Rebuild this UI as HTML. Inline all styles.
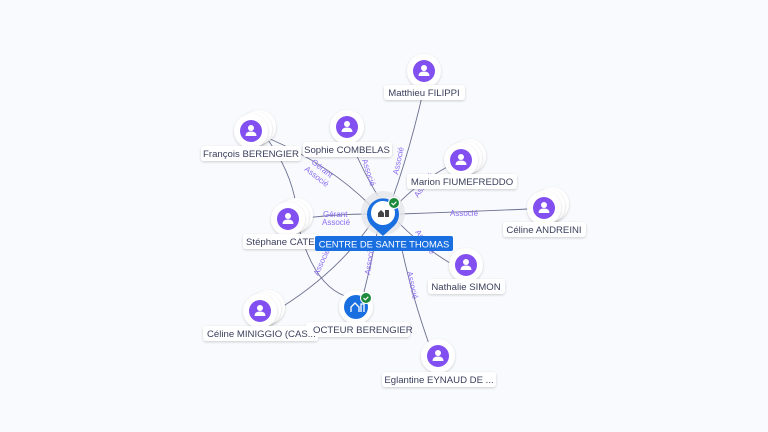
<!DOCTYPE html>
<html><head><meta charset="utf-8"><style>
html,body{margin:0;padding:0;background:#f8fafd;}
svg{display:block;}
text{font-family:"Liberation Sans",sans-serif;}
.lb{font-size:9.6px;fill:#3a3f5c;}
.el{font-size:8px;fill:#8b6cf0;}
.ln{fill:none;stroke:#6b7090;stroke-width:0.9;}
</style></head><body>
<svg width="768" height="432" viewBox="0 0 768 432" xmlns="http://www.w3.org/2000/svg">
<defs>
<filter id="sh" x="-50%" y="-50%" width="200%" height="200%"><feDropShadow dx="0" dy="1" stdDeviation="1.2" flood-color="#000" flood-opacity="0.18"/></filter>
<g id="p">
<circle r="17" fill="#fff" filter="url(#sh)"/>
<circle r="11" fill="#8250f0"/>
<circle cy="-3" r="3" fill="#fff"/>
<path d="M-5.5,5 Q-5.5,0.5 0,0.5 Q5.5,0.5 5.5,5 Z" fill="#fff"/>
</g>
<g id="ps">
<circle cx="8" cy="-4" r="17" fill="#fff" filter="url(#sh)"/>
<circle cx="4" cy="-2" r="17" fill="#fff" filter="url(#sh)"/>
<use href="#p"/>
</g>
</defs>
<rect width="768" height="432" fill="#f8fafd"/>
<!-- connectors -->
<path class="ln" d="M424,88 Q410,150 392,200"/>
<path class="ln" d="M352,145 Q365,175 378,196"/>
<path class="ln" d="M268,138 Q330,165 370,205"/>
<path class="ln" d="M268,140 Q290,170 296,204"/>
<path class="ln" d="M447,167 Q415,185 397,205"/>
<path class="ln" d="M528,209 Q460,212 400,214"/>
<path class="ln" d="M305,218 Q340,214 368,214"/>
<path class="ln" d="M450,263 Q420,245 398,222"/>
<path class="ln" d="M282,307 Q340,270 372,222"/>
<path class="ln" d="M300,232 Q315,285 345,296"/>
<path class="ln" d="M364,292 Q372,260 378,228"/>
<path class="ln" d="M429,344 Q410,290 400,240"/>
<!-- edge labels -->
<text class="el" transform="translate(398,175) rotate(-78)">Associé</text>
<text class="el" transform="translate(362,160) rotate(72)">Associé</text>
<text class="el" transform="translate(311,163) rotate(38)">Gérant</text>
<text class="el" transform="translate(304,170) rotate(38)">Associé</text>
<text class="el" transform="translate(418,198) rotate(-55)">Associé</text>
<text class="el" x="450" y="216">Associé</text>
<text class="el" x="323" y="217">Gérant</text>
<text class="el" x="322" y="225">Associé</text>
<text class="el" transform="translate(415,232) rotate(55)">Associé</text>
<text class="el" transform="translate(318,276) rotate(-65)">Associé</text>
<text class="el" transform="translate(370,275) rotate(-82)">Associé</text>
<text class="el" transform="translate(407,272) rotate(78)">Associé</text>
<!-- person nodes -->
<use href="#p" x="424" y="71"/>
<use href="#p" x="347" y="127"/>
<use href="#ps" x="251" y="131"/>
<use href="#ps" x="461" y="160"/>
<use href="#ps" x="544" y="208"/>
<use href="#ps" x="288" y="219"/>
<use href="#p" x="466" y="265"/>
<use href="#ps" x="260" y="311"/>
<use href="#p" x="438" y="356"/>
<!-- company node -->
<circle cx="356" cy="307" r="17" fill="#fff" filter="url(#sh)"/>
<circle cx="356" cy="307" r="12" fill="#1a6fe0"/>
<path d="M351,312 v-5 l4,-4 4,4 v5 M361,312 v-8 h3 v8" stroke="#fff" stroke-width="1.3" fill="none"/>
<circle cx="366" cy="298" r="5.5" fill="#1e8a3c" stroke="#fff" stroke-width="1"/>
<path d="M363.5,298 l1.8,1.8 3,-3" stroke="#fff" stroke-width="1.1" fill="none"/>
<!-- labels -->
<g filter="url(#sh)" fill="#fff">
<rect x="384" y="85" width="81" height="15" rx="3"/>
<rect x="303" y="142" width="89" height="15" rx="3"/>
<rect x="201" y="146" width="100" height="15" rx="3"/>
<rect x="407" y="174" width="110" height="15" rx="3"/>
<rect x="503" y="222" width="83" height="15" rx="3"/>
<rect x="243" y="234" width="75" height="15" rx="3"/>
<rect x="428" y="279" width="77" height="15" rx="3"/>
<rect x="203" y="326" width="115" height="15" rx="3"/>
<rect x="306" y="322" width="104" height="15" rx="3"/>
<rect x="382" y="372" width="114" height="15" rx="3"/>
</g>
<text class="lb" x="424" y="96" text-anchor="middle">Matthieu FILIPPI</text>
<text class="lb" x="347" y="153" text-anchor="middle">Sophie COMBELAS</text>
<text class="lb" x="251" y="157" text-anchor="middle">François BERENGIER</text>
<text class="lb" x="462" y="185" text-anchor="middle">Marion FIUMEFREDDO</text>
<text class="lb" x="544" y="233" text-anchor="middle">Céline ANDREINI</text>
<text class="lb" x="246" y="245">Stéphane CATE</text>
<text class="lb" x="466" y="290" text-anchor="middle">Nathalie SIMON</text>
<text class="lb" x="207" y="337">Céline MINIGGIO (CAS...</text>
<text class="lb" x="313" y="333">OCTEUR BERENGIER</text>
<text class="lb" x="439" y="383" text-anchor="middle">Eglantine EYNAUD DE ...</text>
<!-- center -->
<circle cx="383" cy="213" r="22" fill="#e4e6ea" opacity="0.8"/>
<path d="M383,236 L372,226 A16,16 0 1,1 394,226 Z" fill="#1a6fe0"/>
<circle cx="383" cy="213" r="12" fill="#fff"/>
<path d="M378,217 v-4 l3,-3 3,3 v4 z M385,217 v-7 h4 v7 z" fill="#444"/>
<circle cx="394" cy="203" r="5.5" fill="#1e8a3c" stroke="#fff" stroke-width="1"/>
<path d="M391.5,203 l1.8,1.8 3,-3" stroke="#fff" stroke-width="1.1" fill="none"/>
<rect x="315" y="236" width="138" height="15" rx="2" fill="#1a6fe0"/>
<text x="384" y="247.5" text-anchor="middle" style="font-size:9.4px;fill:#fff">CENTRE DE SANTE THOMAS</text>
</svg>
</body></html>
